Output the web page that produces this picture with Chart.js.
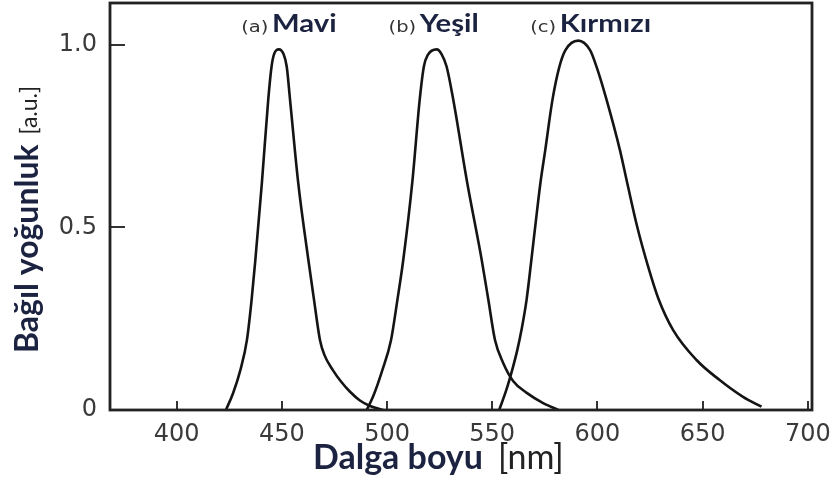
<!DOCTYPE html>
<html>
<head>
<meta charset="utf-8">
<script src="https://cdn.jsdelivr.net/npm/chart.js@4.4.0/dist/chart.umd.min.js"></script>
<style>
  html, body { margin: 0; padding: 0; background: #fff; }
  canvas { display: block; }
</style>
</head>
<body>
<canvas id="spectrum" width="835" height="490"></canvas>
<script>
// Spectra: wavelength (nm) and relative intensity (a.u.)
const blueNm  = [423.4, 426.8, 430.3, 433.4, 435.6, 437.4, 440.5, 443.5, 445.1, 446.3, 448.6, 450.8, 452.3, 453.9, 457.8, 462.6, 465.3, 468.1, 470.2, 474.4, 478.1, 482.4, 487.1, 491.9, 498.1];
const blueVal = [0, 0.046, 0.11, 0.192, 0.301, 0.411, 0.622, 0.849, 0.941, 0.975, 0.988, 0.975, 0.941, 0.849, 0.621, 0.411, 0.301, 0.192, 0.151, 0.108, 0.078, 0.05, 0.026, 0.011, 0];

const greenNm  = [490.3, 493.3, 497.8, 501.9, 504.9, 507.7, 512.1, 515.5, 517.5, 519.4, 523.6, 525.9, 528.3, 531.5, 538.0, 545.0, 548.2, 551.3, 555.2, 560.0, 566.4, 574.2, 581.4];
const greenVal = [0, 0.036, 0.11, 0.192, 0.301, 0.411, 0.63, 0.849, 0.941, 0.973, 0.988, 0.975, 0.941, 0.849, 0.626, 0.411, 0.3, 0.192, 0.129, 0.079, 0.047, 0.019, 0];

const redNm  = [553.3, 556.7, 559.5, 561.9, 563.9, 566.3, 568.6, 570.8, 572.9, 575.2, 578.6, 581.9, 584.8, 590.9, 596.5, 599.6, 604.4, 610.7, 614.2, 619.0, 624.0, 629.0, 636.0, 647.1, 658.1, 669.2, 678.0];
const redVal = [0, 0.055, 0.11, 0.164, 0.219, 0.301, 0.411, 0.521, 0.622, 0.712, 0.849, 0.94, 0.986, 1.012, 0.986, 0.94, 0.849, 0.712, 0.621, 0.5, 0.395, 0.305, 0.219, 0.137, 0.082, 0.036, 0.009];

const xTicks = [400, 450, 500, 550, 600, 650, 700];
const xTickLabels = ['400', '450', '500', '550', '600', '650', '700'];
const yTicks = [0, 0.5, 1.0];
const yTickLabels = ['0', '0.5', '1.0'];

const peakTags = ['(a)', '(b)', '(c)'];
const peakNames = ['Mavi', 'Yeşil', 'Kırmızı'];

const NAVY = '#1c2340';

function toPoints(nm, val) {
    return nm.map((x, i) => ({ x: x, y: val[i] }));
}

// frame, peak labels and the two-part axis titles
const figureText = {
    id: 'figureText',
    afterDraw(chart, args, opts) {
        const { ctx, chartArea: a, scales: { x } } = chart;
        ctx.save();

        // box around the plot
        ctx.strokeStyle = '#222';
        ctx.lineWidth = 2.8;
        ctx.strokeRect(a.left, a.top, a.right - a.left, a.bottom - a.top);

        // (a) Mavi, (b) Yeşil, (c) Kırmızı
        ctx.textBaseline = 'alphabetic';
        peakNames.forEach((name, i) => {
            const px = x.getPixelForValue(opts.labelNm[i]);
            ctx.save();
            ctx.translate(px, a.top + 29);
            ctx.scale(1.22, 1);
            ctx.font = 'bold 24px Lato';
            ctx.fillStyle = NAVY;
            ctx.textAlign = 'left';
            ctx.fillText(name, 0, 0);
            ctx.font = '16px "DejaVu Sans"';
            ctx.fillStyle = '#333';
            ctx.textAlign = 'right';
            ctx.fillText(peakTags[i], -3, 0);
            ctx.restore();
        });

        // x title
        ctx.textAlign = 'left';
        ctx.font = 'bold 34px Lato';
        ctx.fillStyle = NAVY;
        const xl = a.left + 203;
        ctx.fillText('Dalga boyu', xl, a.bottom + 59);
        const wx = ctx.measureText('Dalga boyu').width;
        ctx.font = '34px Lato';
        ctx.fillStyle = '#222';
        ctx.fillText('[nm]', xl + wx + 15, a.bottom + 59);

        // y title (rotated)
        ctx.save();
        ctx.translate(38, 353);
        ctx.rotate(-Math.PI / 2);
        ctx.font = 'bold 32px Lato';
        ctx.fillStyle = NAVY;
        ctx.fillText('Bağıl yoğunluk', 0, 0);
        const wy = ctx.measureText('Bağıl yoğunluk').width;
        ctx.font = '23px Lato';
        ctx.fillStyle = '#222';
        ctx.fillText('[a.u.]', wy + 10, -1);
        ctx.restore();

        ctx.restore();
    }
};

const lineStyle = {
    borderColor: '#141414',
    borderWidth: 2.6,
    pointRadius: 0,
    fill: false,
    cubicInterpolationMode: 'monotone'
};

new Chart(document.getElementById('spectrum'), {
    type: 'line',
    data: {
        datasets: [
            Object.assign({ label: 'Mavi', data: toPoints(blueNm, blueVal) }, lineStyle),
            Object.assign({ label: 'Yeşil', data: toPoints(greenNm, greenVal) }, lineStyle),
            Object.assign({ label: 'Kırmızı', data: toPoints(redNm, redVal) }, lineStyle)
        ]
    },
    options: {
        responsive: false,
        animation: false,
        layout: { padding: { left: 0, right: 23, top: 3, bottom: 0 } },
        plugins: {
            legend: { display: false },
            tooltip: { enabled: false },
            figureText: { labelNm: [445.3, 515.6, 582.1] }
        },
        scales: {
            x: {
                type: 'linear',
                min: 368.3,
                max: 702,
                afterBuildTicks: (s) => { s.ticks = xTicks.map(v => ({ value: v })); },
                afterFit: (s) => { s.height = 80; s.paddingLeft = 0; s.paddingRight = 0; },
                ticks: {
                    callback: (v, i) => xTickLabels[i],
                    font: { family: 'DejaVu Sans', size: 24 },
                    color: '#3a3a3a',
                    padding: 19,
                    maxRotation: 0
                },
                grid: { drawOnChartArea: false, tickLength: -9, color: '#333', lineWidth: 2 },
                border: { display: false }
            },
            y: {
                min: 0,
                max: 1.115,
                afterBuildTicks: (s) => { s.ticks = yTicks.map(v => ({ value: v })); },
                afterFit: (s) => { s.width = 110; s.paddingTop = 0; s.paddingBottom = 0; },
                ticks: {
                    callback: (v, i) => yTickLabels[i],
                    font: { family: 'DejaVu Sans', size: 24 },
                    color: '#3a3a3a',
                    padding: 28
                },
                grid: { drawOnChartArea: false, tickLength: -15, color: '#333', lineWidth: 2 },
                border: { display: false }
            }
        }
    },
    plugins: [figureText]
});
</script>
</body>
</html>
